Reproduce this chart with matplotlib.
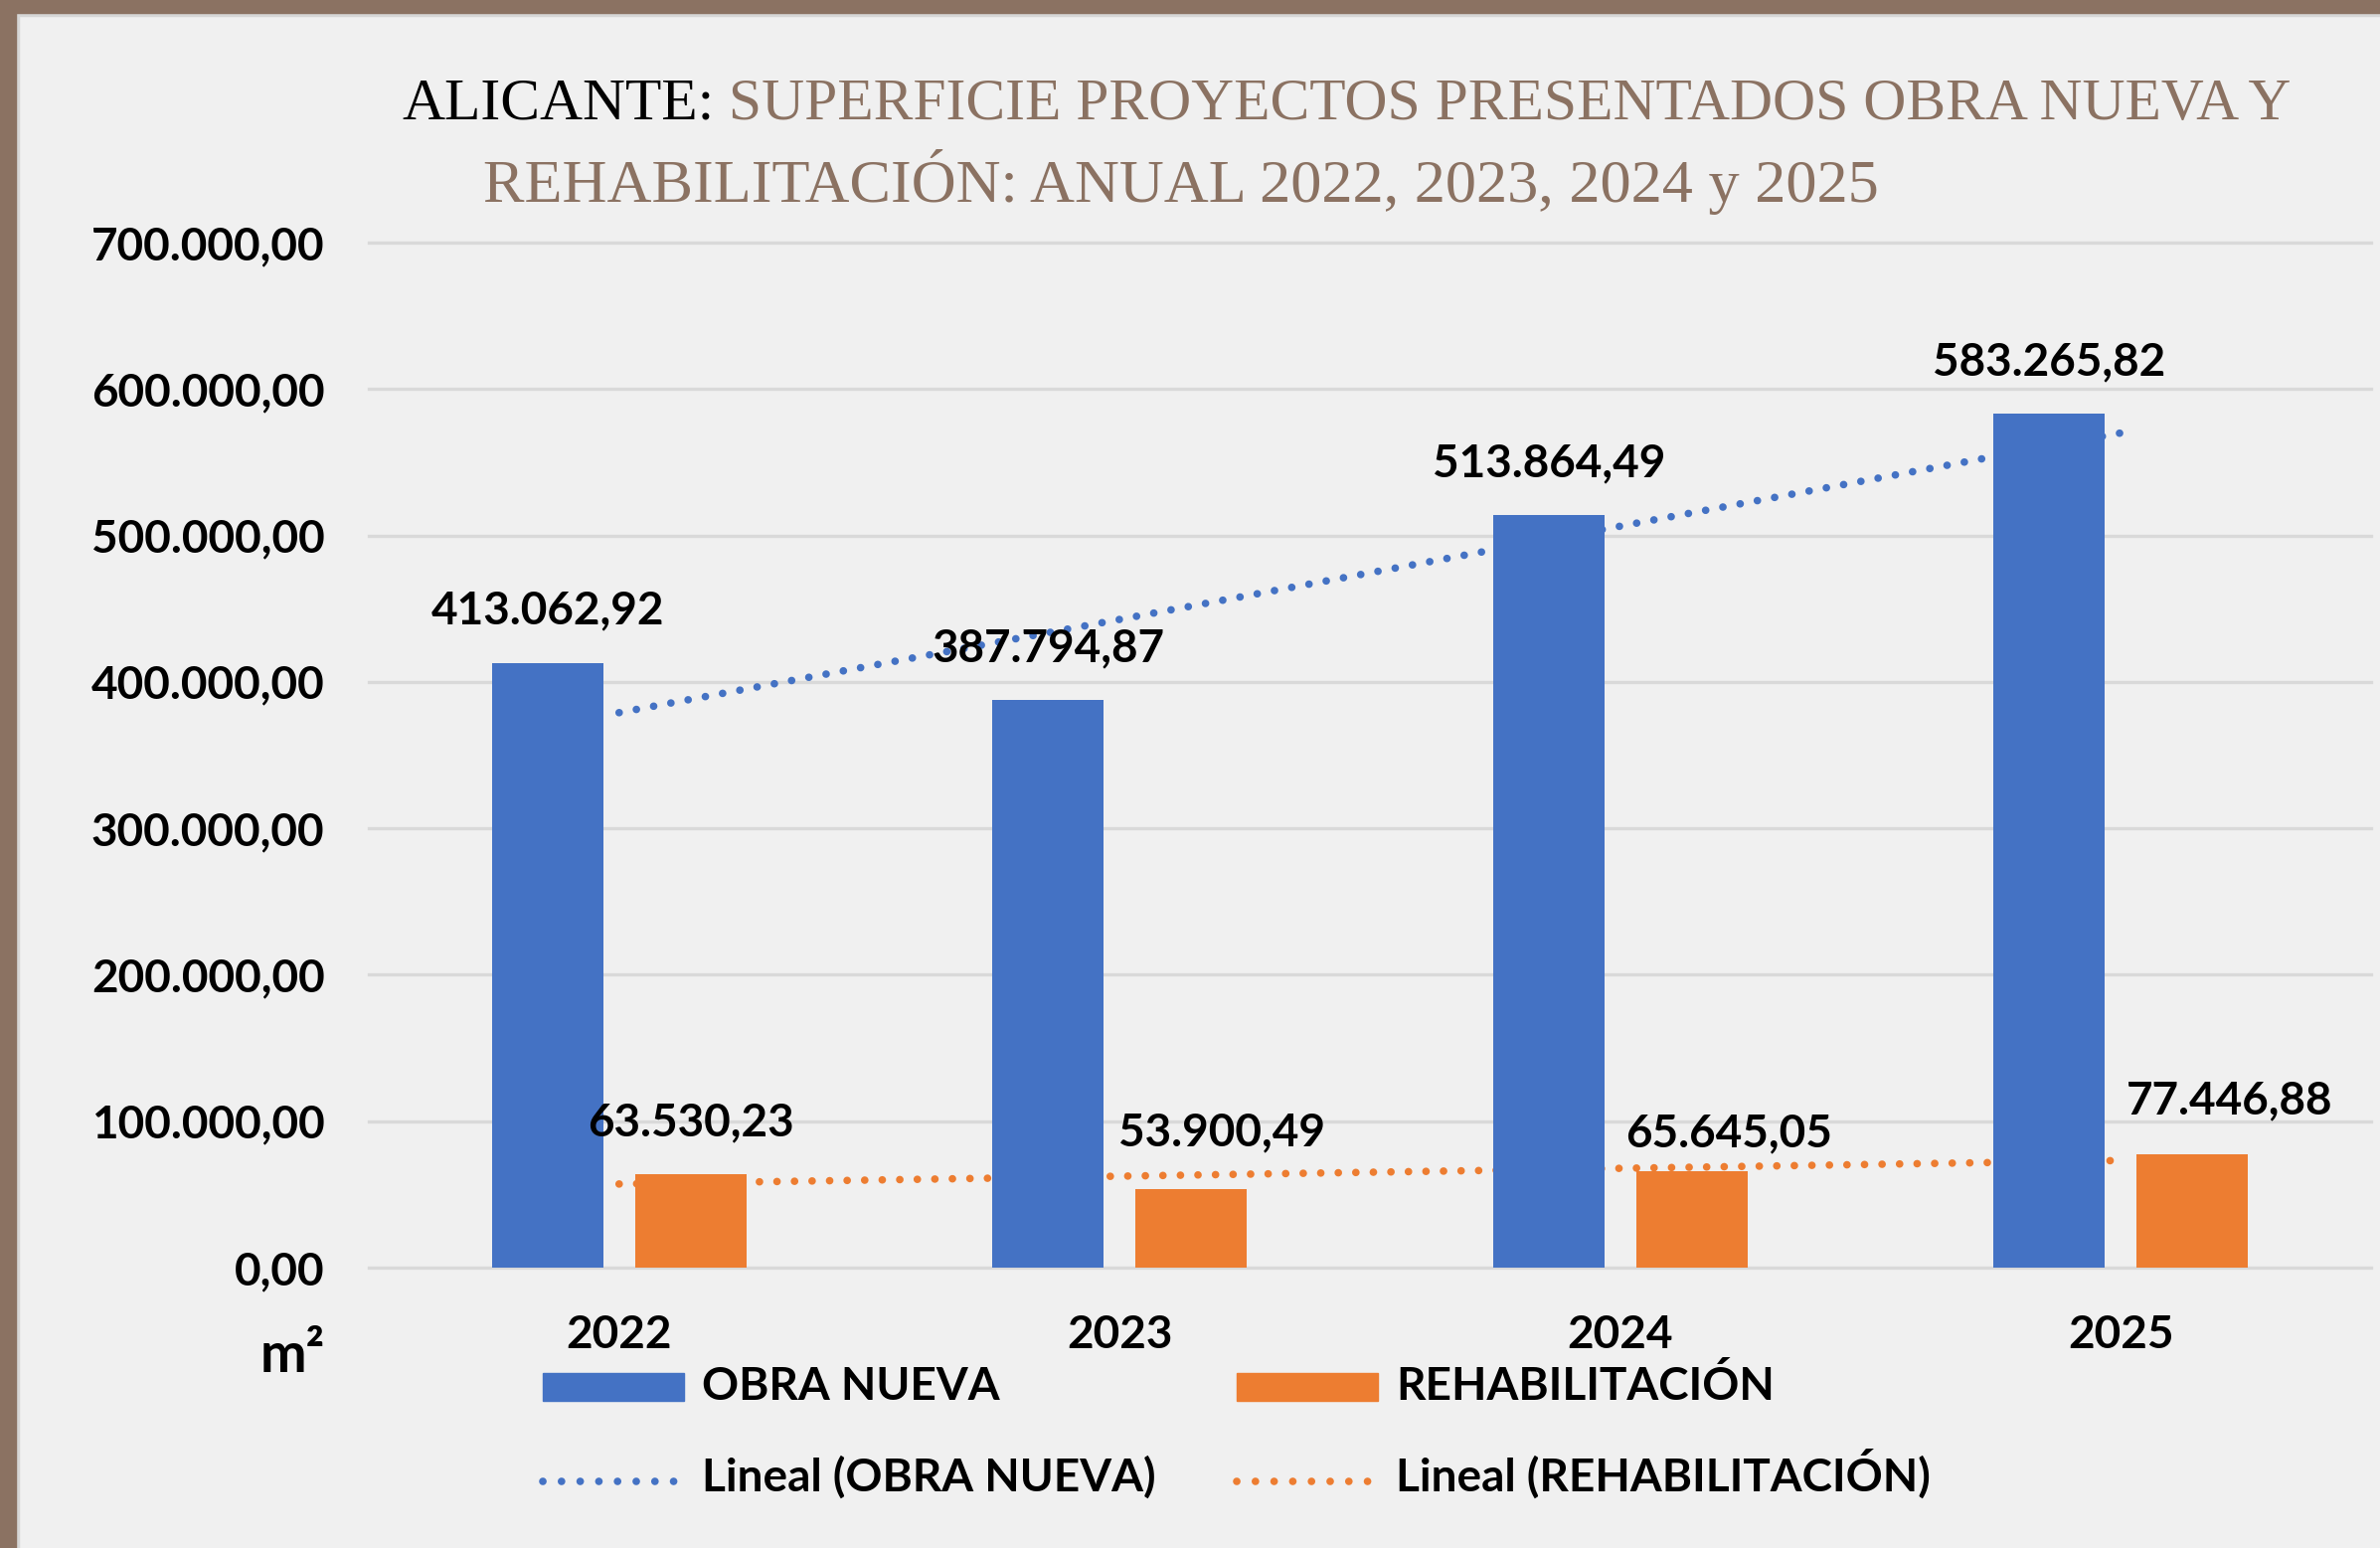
import matplotlib
matplotlib.use('Agg')
import matplotlib.pyplot as plt
from matplotlib.lines import Line2D
from matplotlib.patches import Rectangle
import numpy as np

years = ['2022', '2023', '2024', '2025']
obra_nueva = [413062.92, 387794.87, 513864.49, 583265.82]
rehabilitacion = [63530.23, 53900.49, 65645.05, 77446.88]
y_ticks = [0, 100000, 200000, 300000, 400000, 500000, 600000, 700000]
legend_labels = ['OBRA NUEVA', 'REHABILITACIÓN', 'Lineal (OBRA NUEVA)', 'Lineal (REHABILITACIÓN)']

BLUE = '#4472C4'
ORANGE = '#ED7D31'
BROWN = '#8B7262'
BG = '#F0F0F0'
GRID = '#D9D9D9'

W, H = 2394, 1557


def es(v):
    # spanish number format: 413062.92 -> 413.062,92
    s = f'{v:,.2f}'
    return s.replace(',', 'X').replace('.', ',').replace('X', '.')


plt.rcParams['font.family'] = ['Lato', 'DejaVu Sans']
plt.rcParams['font.weight'] = 'bold'
FS = 33

fig = plt.figure(figsize=(W / 100, H / 100), dpi=100, facecolor=BG)
ax = fig.add_axes([371 / W, 1 - 1275 / H, 2014 / W, (1275 - 244) / H])
ax.set_facecolor(BG)

x = np.arange(len(years))
bw = 0.222
off = 0.143
ax.bar(x - off, obra_nueva, bw, color=BLUE, zorder=3)
ax.bar(x + off, rehabilitacion, bw, color=ORANGE, zorder=3)

# linear trendlines, like excel's "Lineal"
dots = (0, (0.01, 2.3))
for vals, col in [(obra_nueva, BLUE), (rehabilitacion, ORANGE)]:
    k, b = np.polyfit(x, vals, 1)
    ax.plot(x, k * x + b, color=col, lw=5.5, linestyle=dots,
            dash_capstyle='round', zorder=2)

# data labels (offsets in points, some moved by hand in the original)
dx_on = [0, 0, 0, 0]
dy_on = [28, 28, 28, 28]
dx_re = [0, 22, 27, 27]
dy_re = [28, 31, 18, 29]
for i in range(len(years)):
    ax.annotate(es(obra_nueva[i]), (x[i] - off, obra_nueva[i]), xytext=(dx_on[i], dy_on[i]),
                textcoords='offset points', ha='center', va='baseline', fontsize=FS, zorder=5)
    ax.annotate(es(rehabilitacion[i]), (x[i] + off, rehabilitacion[i]), xytext=(dx_re[i], dy_re[i]),
                textcoords='offset points', ha='center', va='baseline', fontsize=FS, zorder=5)

ax.set_xlim(-0.5, len(years) - 0.5)
ax.set_ylim(0, 700000)
ax.set_yticks(y_ticks)
ax.set_yticklabels([es(v) for v in y_ticks])
ax.set_xticks(x)
ax.set_xticklabels(years)
ax.tick_params(axis='y', length=0, pad=32, labelsize=FS)
ax.tick_params(axis='x', length=0, pad=34, labelsize=FS)
ax.yaxis.grid(True, color=GRID, lw=2.4)
ax.set_axisbelow(True)
for gl in ax.get_ygridlines():
    gl.set_clip_on(False)
for s in ax.spines.values():
    s.set_visible(False)

fig.text(327 / W, 1 - 1380 / H, 'm²', ha='right', va='baseline', fontsize=40)

# legend, drawn by hand so both rows line up (pixel positions)
col_x = [546, 1244]
row_base = [1408, 1500]
row_mid = [1395, 1490]
colors = [BLUE, ORANGE]
for r in range(2):
    for c in range(2):
        x0 = col_x[c] / W
        x1 = (col_x[c] + 142) / W
        ym = 1 - row_mid[r] / H
        if r == 0:
            fig.add_artist(Rectangle((x0, ym - 14 / H), x1 - x0, 28 / H,
                                     transform=fig.transFigure, color=colors[c]))
        else:
            fig.add_artist(Line2D([x0, x1], [ym, ym], transform=fig.transFigure,
                                  color=colors[c], lw=5.5, linestyle=(0, (0.01, 2.45)),
                                  dash_capstyle='round'))
        fig.text((col_x[c] + 160) / W, 1 - row_base[r] / H, legend_labels[r * 2 + c],
                 va='baseline', ha='left', fontsize=FS)

# title
tfont = dict(family='Liberation Serif', fontweight='normal')
t1 = fig.text(404 / W, 1 - 120 / H, 'ALICANTE:', va='baseline', color='black', fontsize=42.8, **tfont)
ax.annotate(' SUPERFICIE PROYECTOS PRESENTADOS OBRA NUEVA Y', xy=(1, 0), xycoords=t1,
            va='bottom', ha='left', color=BROWN, annotation_clip=False, fontsize=42.8, **tfont)
fig.text(486 / W, 1 - 203 / H, 'REHABILITACIÓN: ANUAL 2022, 2023, 2024 y 2025',
         va='baseline', color=BROWN, fontsize=44.8, **tfont)

# brown frame on top and left
fig.patches.append(Rectangle((0, 0), 16 / W, 1, transform=fig.transFigure, color=BROWN, zorder=10))
fig.patches.append(Rectangle((0, 1 - 13 / H), 1, 13 / H, transform=fig.transFigure, color=BROWN, zorder=10))
fig.patches.append(Rectangle((16 / W, 0), 3 / W, 1 - 13 / H, transform=fig.transFigure, color='#D6D6D6', zorder=9))
fig.patches.append(Rectangle((16 / W, 1 - 16 / H), 1, 3 / H, transform=fig.transFigure, color='#D6D6D6', zorder=9))

fig.savefig('out.png', dpi=100, facecolor=BG)
